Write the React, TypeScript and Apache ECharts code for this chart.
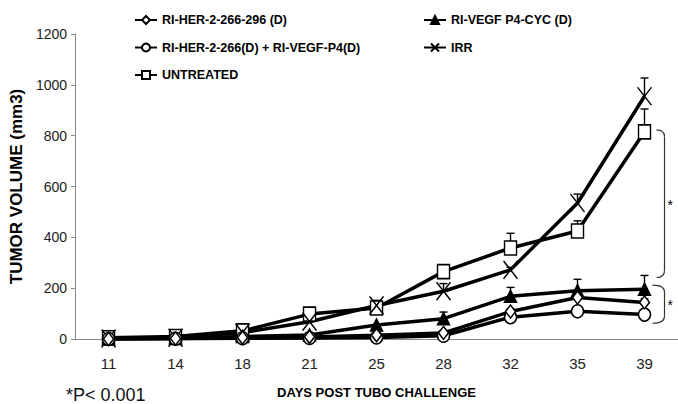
import React, { useEffect, useRef } from "react";
import * as echarts from "echarts";

const days = ["11", "14", "18", "21", "25", "28", "32", "35", "39"];
const yTicks = [0, 200, 400, 600, 800, 1000, 1200];

const her296 = [0, 2, 5, 8, 15, 24, 108, 163, 144];
const her296Err = [0, 0, 0, 0, 0, 0, 10, 15, 14];
const vegf = [0, 2, 10, 16, 55, 80, 168, 190, 196];
const vegfErr = [0, 0, 0, 0, 0, 26, 35, 45, 54];
const combo = [0, 1, 3, 4, 6, 13, 86, 109, 96];
const comboErr = [0, 0, 0, 0, 0, 0, 0, 0, 0];
const irr = [2, 5, 25, 68, 132, 188, 272, 535, 955];
const irrErr = [0, 0, 0, 0, 20, 30, 10, 35, 72];
const untreated = [5, 10, 32, 98, 122, 265, 358, 425, 815];
const untreatedErr = [0, 0, 0, 0, 15, 20, 58, 40, 90];

const names = [
  "RI-HER-2-266-296 (D)",
  "RI-VEGF P4-CYC (D)",
  "RI-HER-2-266(D) + RI-VEGF-P4(D)",
  "IRR",
  "UNTREATED",
];

const FONT = "'Liberation Sans', Arial, sans-serif";
const CROSS = "path://M0,0L14,18M14,0L0,18";

function lineSeries(name: string, data: number[], symbol: string, size: any, fill: string) {
  return {
    type: "line",
    name,
    data,
    symbol,
    symbolSize: size,
    showAllSymbol: true,
    z: 3,
    lineStyle: { color: "#000", width: 3.5 },
    itemStyle: { color: fill, borderColor: "#000", borderWidth: 1.5 },
    emphasis: { disabled: true },
  };
}

function errSeries(values: number[], errs: number[]) {
  const data = values
    .map((v, i) => [i, v, errs[i]])
    .filter((d) => d[2] > 0);
  return {
    type: "custom",
    z: 2,
    silent: true,
    data,
    renderItem: (params: any, api: any) => {
      const x = api.value(0);
      const y = api.value(1);
      const e = api.value(2);
      const p0 = api.coord([x, y]);
      const p1 = api.coord([x, y + e]);
      const st = { stroke: "#000", lineWidth: 1.4 };
      return {
        type: "group",
        children: [
          { type: "line", shape: { x1: p0[0], y1: p0[1], x2: p1[0], y2: p1[1] }, style: st },
          { type: "line", shape: { x1: p1[0] - 4, y1: p1[1], x2: p1[0] + 4, y2: p1[1] }, style: st },
        ],
      };
    },
  };
}

function bracket(x: number, yTop: number, yBot: number, curl: number) {
  const st = { stroke: "#333", lineWidth: 1.2, fill: "none" };
  return [
    {
      type: "bezierCurve",
      shape: { x1: x - curl, y1: yTop, cpx1: x, cpy1: yTop, x2: x, y2: yTop + 7 },
      style: st,
    },
    { type: "line", shape: { x1: x, y1: yTop + 7, x2: x, y2: yBot - 7 }, style: st },
    {
      type: "bezierCurve",
      shape: { x1: x, y1: yBot - 7, cpx1: x, cpy1: yBot, x2: x - curl, y2: yBot },
      style: st,
    },
  ];
}

export default function App() {
  const ref = useRef<HTMLDivElement>(null);
  useEffect(() => {
    const chart = echarts.init(ref.current!, null, { renderer: "svg" });
    const legendText = {
      fontFamily: FONT,
      fontWeight: "bold",
      fontSize: 12.5,
      color: "#000",
      lineHeight: 14,
    };
    const legendBase = {
      orient: "vertical",
      top: 8,
      itemWidth: 22,
      itemHeight: 10,
      itemGap: 13.5,
      selectedMode: false,
      textStyle: legendText,
    };
    chart.setOption({
      animation: false,
      backgroundColor: "#fff",
      grid: { left: 65, top: 34, width: 615, height: 312 },
      legend: [
        { ...legendBase, data: [names[0], names[2], names[4]], left: 129 },
        { ...legendBase, data: [names[1], names[3]], left: 418 },
      ],
      xAxis: {
        type: "category",
        data: days,
        boundaryGap: true,
        name: "DAYS POST TUBO CHALLENGE",
        nameLocation: "middle",
        nameGap: 47,
        nameTextStyle: { fontFamily: FONT, fontWeight: "bold", fontSize: 13, color: "#000" },
        axisLine: { lineStyle: { color: "#888", width: 1 } },
        axisTick: { length: 5, lineStyle: { color: "#888" } },
        axisLabel: { fontFamily: FONT, fontSize: 15, color: "#222", margin: 17 },
      },
      yAxis: {
        type: "value",
        min: yTicks[0],
        max: yTicks[yTicks.length - 1],
        interval: 200,
        name: "TUMOR VOLUME (mm3)",
        nameLocation: "middle",
        nameGap: 44,
        nameTextStyle: { fontFamily: FONT, fontWeight: "bold", fontSize: 17, color: "#000" },
        splitLine: { show: false },
        axisLine: { show: true, lineStyle: { color: "#888", width: 1 } },
        axisTick: { show: true, length: 4, lineStyle: { color: "#888" } },
        axisLabel: {
          fontFamily: FONT,
          fontSize: 14,
          color: "#222",
          margin: 8,
          formatter: (v: number) => String(v),
        },
      },
      series: [
        errSeries(untreated, untreatedErr),
        errSeries(irr, irrErr),
        errSeries(vegf, vegfErr),
        errSeries(her296, her296Err),
        errSeries(combo, comboErr),
        lineSeries(names[4], untreated, "rect", [12, 14], "#fff"),
        lineSeries(names[3], irr, CROSS, [14, 18], "#000"),
        lineSeries(names[1], vegf, "triangle", [12, 12], "#000"),
        lineSeries(names[2], combo, "circle", [12, 13], "#fff"),
        lineSeries(names[0], her296, "diamond", [10, 13], "#fff"),
      ],
    });

    const xb = (chart.convertToPixel({ xAxisIndex: 0 }, "39") as number) + 20;
    const py = (v: number) => chart.convertToPixel({ yAxisIndex: 0 }, v) as number;
    const starStyle = { fontFamily: FONT, fontSize: 14, fill: "#000" };
    chart.setOption({
      graphic: [
        ...bracket(xb, py(823), py(242), 8),
        ...bracket(xb, py(212), py(62), 12),
        { type: "text", x: xb + 3, y: (py(823) + py(242)) / 2 - 6, style: { text: "*", ...starStyle } },
        { type: "text", x: xb + 3, y: (py(212) + py(62)) / 2 - 6, style: { text: "*", ...starStyle } },
        {
          type: "text",
          left: 66,
          top: 386,
          style: { text: "*P< 0.001", fontFamily: FONT, fontSize: 18, fill: "#111" },
        },
      ],
    });
    return () => chart.dispose();
  }, []);
  return (
    <div
      ref={ref}
      style={{ position: "fixed", left: 0, top: 0, width: 678, height: 404 }}
    />
  );
}
